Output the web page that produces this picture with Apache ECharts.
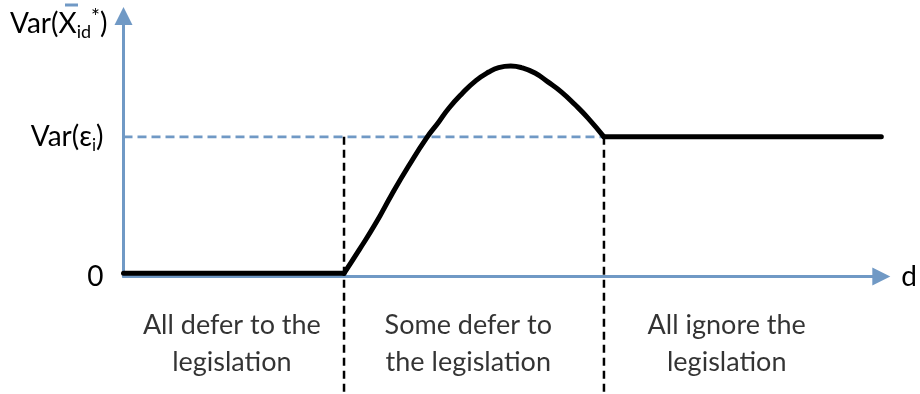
<!DOCTYPE html>
<html><head><meta charset="utf-8">
<script src="https://cdn.jsdelivr.net/npm/echarts@6/dist/echarts.min.js"></script>
<style>html,body{margin:0;padding:0;background:#fff}#c{width:920px;height:394px}</style>
</head><body><div id="c"></div>
<script>
// ---- data (x = d, y = variance, arbitrary units) ----
const curveD   = [29.1, 31.1, 33.3, 35.4, 37.6, 40.0, 41.6, 42.9, 44.6, 46.5, 48.2, 49.5, 51.1, 52.5, 54.3, 56.0, 57.8, 59.6, 61.3, 63.4];
const curveVar = [1.2, 10.2, 20.5, 31.5, 42.3, 53.2, 59.3, 64.5, 70.0, 75.2, 78.5, 80.2, 80.8, 80.2, 78.1, 74.7, 70.8, 65.9, 60.8, 53.6];
const leftD    = [0, 29.1];
const leftVar  = [1.2, 1.2];
const rightD   = [63.4, 100];
const rightVar = [53.6, 53.6];
const varEps   = 53.6;
const boundaries = [29.1, 63.4];
const guideBottom = -46;
const yTickValues = [0, 53.6];
const yTickLabels = ['0', '{t|Var(ε}{s|i}{t|)}'];
const regionNames = ['All defer to the\nlegislation', 'Some defer to\nthe legislation', 'All ignore the\nlegislation'];
const regionD   = [14.3, 45.5, 79.6];
const regionVar = [-25.7, -25.7, -25.7];
const xName = 'd';

const BLUE = '#7099c5';
const FONT = 'Lato';
const FS = 28;
const zip = (a, b) => a.map((v, i) => [v, b[i]]);
const blackLine = { color: '#000', width: 5, cap: 'round', join: 'round' };

const chart = echarts.init(document.getElementById('c'), null, { renderer: 'canvas' });
chart.setOption({
  animation: false,
  title: {
    left: 10, top: 3, padding: 0,
    text: '{gap| }{bar| }\n{t|Var(X}{sub|id}{sup|*}{t|)}',
    textStyle: {
      fontWeight: 'normal',
      rich: {
        gap: { width: 55, height: 3, lineHeight: 4 },
        bar: { width: 13, height: 3, lineHeight: 4, backgroundColor: BLUE },
        t: { fontFamily: FONT, fontSize: FS, fontWeight: 'normal', color: '#000', lineHeight: 34 },
        sub: { fontFamily: FONT, fontSize: 18, fontWeight: 'normal', color: '#000', lineHeight: 34, verticalAlign: 'bottom' },
        sup: { fontFamily: FONT, fontSize: 21, fontWeight: 'normal', color: '#000', lineHeight: 34, verticalAlign: 'top' }
      }
    }
  },
  grid: { left: 123.5, right: 35.5, top: 16, bottom: 117.5, containLabel: false },
  xAxis: {
    type: 'value', min: 0, max: 100,
    name: xName, nameLocation: 'end', nameGap: 20,
    nameTextStyle: { fontFamily: FONT, fontSize: FS, color: '#000', verticalAlign: 'middle', padding: [0, 0, 6, 0] },
    axisLine: { show: true, symbol: ['none', 'triangle'], symbolSize: [18, 18], lineStyle: { color: BLUE, width: 3 } },
    axisTick: { show: false }, axisLabel: { show: false }, splitLine: { show: false }
  },
  yAxis: {
    type: 'value', min: 0, max: 100,
    axisLine: { show: true, symbol: ['none', 'triangle'], symbolSize: [18, 18], lineStyle: { color: BLUE, width: 3 } },
    axisTick: { show: false }, splitLine: { show: false },
    axisLabel: {
      customValues: yTickValues,
      showMinLabel: true,
      margin: 20,
      formatter: v => { const i = yTickValues.indexOf(v); return i >= 0 ? yTickLabels[i] : ''; },
      fontFamily: FONT, fontSize: FS, color: '#000',
      rich: {
        t: { fontFamily: FONT, fontSize: FS, color: '#000', lineHeight: 34 },
        s: { fontFamily: FONT, fontSize: 17, color: '#000', lineHeight: 34, verticalAlign: 'bottom' }
      }
    }
  },
  series: [
    { type: 'line', symbol: 'none', silent: true, z: 1,
      data: [[0, varEps], [boundaries[1], varEps]],
      lineStyle: { color: BLUE, width: 2.8, type: [9, 5] } },
    { type: 'line', symbol: 'none', silent: true, clip: false, z: 1,
      data: [[boundaries[0], varEps], [boundaries[0], guideBottom]],
      lineStyle: { color: '#000', width: 2.5, type: [8, 5] } },
    { type: 'line', symbol: 'none', silent: true, clip: false, z: 1,
      data: [[boundaries[1], varEps], [boundaries[1], guideBottom]],
      lineStyle: { color: '#000', width: 2.5, type: [8, 5] } },
    { type: 'line', symbol: 'none', silent: true, z: 3, data: zip(leftD, leftVar), lineStyle: blackLine },
    { type: 'line', symbol: 'none', silent: true, z: 3, smooth: 0.5, data: zip(curveD, curveVar), lineStyle: blackLine },
    { type: 'line', symbol: 'none', silent: true, z: 3, data: zip(rightD, rightVar), lineStyle: blackLine },
    { type: 'scatter', symbolSize: 0, silent: true, clip: false,
      data: regionNames.map((n, i) => ({ name: n, value: [regionD[i], regionVar[i]] })),
      label: { show: true, position: 'inside', formatter: p => p.name,
        fontFamily: FONT, fontSize: 27, lineHeight: 37, color: '#000', align: 'center' } }
  ]
});
</script></body></html>
